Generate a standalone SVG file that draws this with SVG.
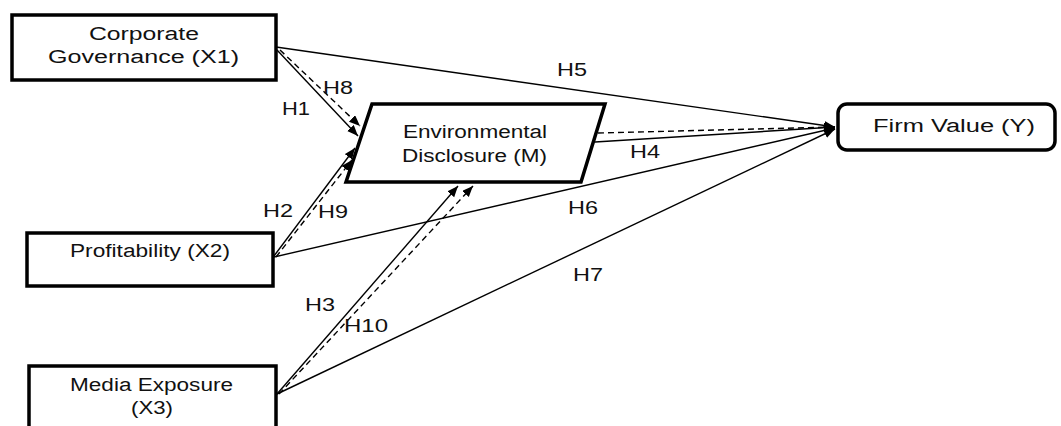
<svg xmlns="http://www.w3.org/2000/svg" width="1061" height="426" viewBox="0 0 1061 426">
<style>
.box{fill:#fff;stroke:#000;stroke-width:3.5}
.t{font-family:"Liberation Sans",Arial,sans-serif;font-size:18px;fill:#111}
.c{fill:none;stroke:#000;stroke-width:1.4}
.d{stroke-dasharray:6,4}
</style>
<defs>
<marker id="ah" markerUnits="userSpaceOnUse" markerWidth="12" markerHeight="10" refX="11" refY="4.5" orient="auto">
<path d="M0,0 L11,4.5 L0,9 z" fill="#000"/>
</marker>
</defs>
<rect width="1061" height="426" fill="#fff"/>
<g id="connectors">
<path class="c" d="M276,47 L835,127" marker-end="url(#ah)"/>
<path class="c" d="M277,50 L358,136" marker-end="url(#ah)"/>
<path class="c d" d="M280,50 L360,126" marker-end="url(#ah)"/>
<path class="c" d="M274,256 L355,148" marker-end="url(#ah)"/>
<path class="c d" d="M276,257 L352,160" marker-end="url(#ah)"/>
<path class="c" d="M277,394 L458,186" marker-end="url(#ah)"/>
<path class="c d" d="M279,394 L473,186" marker-end="url(#ah)"/>
<path class="c" d="M274,257 L835,128" marker-end="url(#ah)"/>
<path class="c" d="M277,394 L835,129" marker-end="url(#ah)"/>
<path class="c" d="M595,142 L835,127" marker-end="url(#ah)"/>
<path class="c d" d="M598,133 L835,127" marker-end="url(#ah)"/>
</g>
<g id="labels">
<text class="t" x="557" y="76" textLength="30" lengthAdjust="spacingAndGlyphs">H5</text>
<text class="t" x="323" y="94" textLength="30" lengthAdjust="spacingAndGlyphs">H8</text>
<text class="t" x="282" y="115" textLength="28" lengthAdjust="spacingAndGlyphs">H1</text>
<text class="t" x="263" y="217" textLength="30" lengthAdjust="spacingAndGlyphs">H2</text>
<text class="t" x="318" y="218" textLength="30" lengthAdjust="spacingAndGlyphs">H9</text>
<text class="t" x="568" y="214" textLength="30" lengthAdjust="spacingAndGlyphs">H6</text>
<text class="t" x="630" y="158" textLength="30" lengthAdjust="spacingAndGlyphs">H4</text>
<text class="t" x="305" y="311" textLength="30" lengthAdjust="spacingAndGlyphs">H3</text>
<text class="t" x="344" y="332" textLength="44" lengthAdjust="spacingAndGlyphs">H10</text>
<text class="t" x="573" y="281" textLength="30" lengthAdjust="spacingAndGlyphs">H7</text>
</g>
<g id="node-x1">
<rect class="box" x="12" y="15" width="264" height="65"/>
<text class="t" x="89" y="40" textLength="110" lengthAdjust="spacingAndGlyphs">Corporate</text>
<text class="t" x="48" y="63" textLength="191" lengthAdjust="spacingAndGlyphs">Governance (X1)</text>
</g>
<g id="node-m">
<polygon class="box" points="372,104 605,104 581,182 346,182"/>
<text class="t" x="403" y="138" textLength="144" lengthAdjust="spacingAndGlyphs">Environmental</text>
<text class="t" x="402" y="162" textLength="145" lengthAdjust="spacingAndGlyphs">Disclosure (M)</text>
</g>
<g id="node-y">
<rect class="box" x="838" y="104" width="217" height="46" rx="9"/>
<text class="t" x="873" y="132" textLength="162" lengthAdjust="spacingAndGlyphs">Firm Value (Y)</text>
</g>
<g id="node-x2">
<rect class="box" x="27" y="233" width="246" height="53"/>
<text class="t" x="70" y="257" textLength="160" lengthAdjust="spacingAndGlyphs">Profitability (X2)</text>
</g>
<g id="node-x3">
<rect class="box" x="29" y="366" width="247" height="80"/>
<text class="t" x="70" y="391" textLength="163" lengthAdjust="spacingAndGlyphs">Media Exposure</text>
<text class="t" x="131" y="414" textLength="42" lengthAdjust="spacingAndGlyphs">(X3)</text>
</g>
</svg>
